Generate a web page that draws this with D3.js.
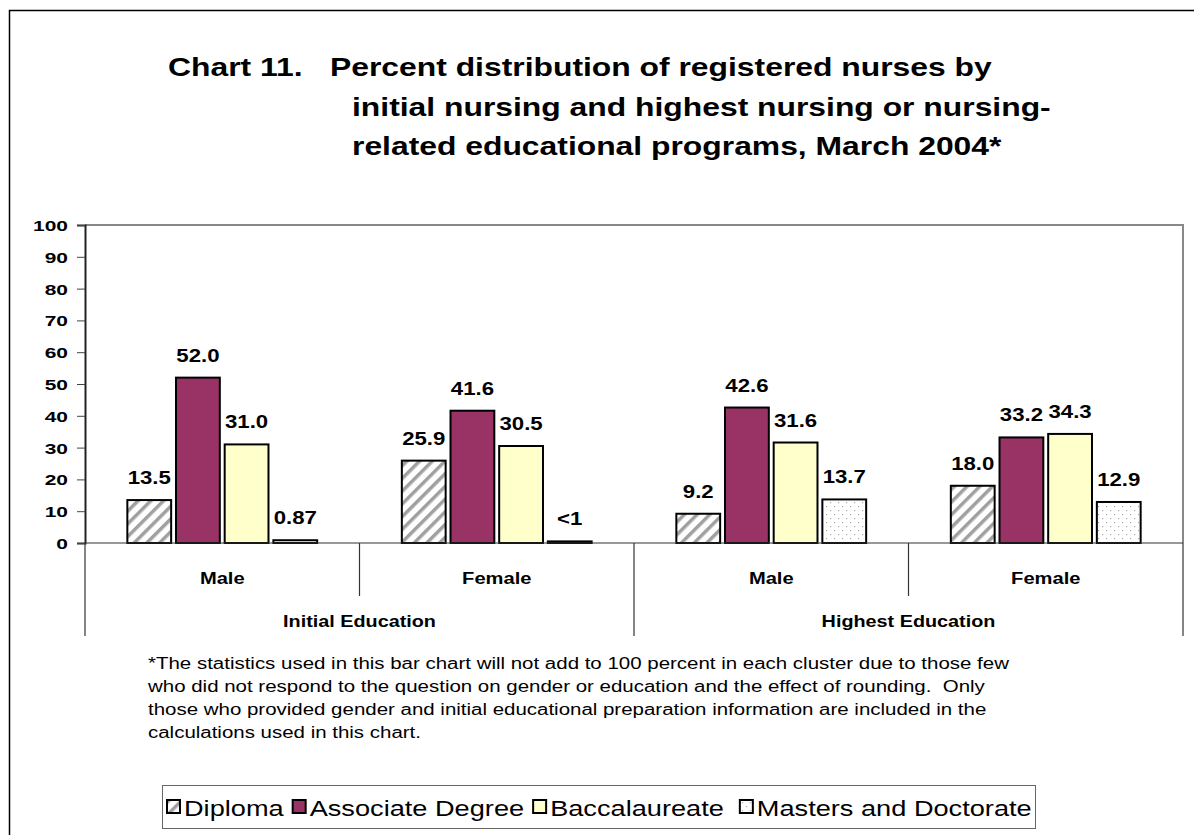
<!DOCTYPE html>
<head>
<style type="text/css">
	body { margin: 0; background: #fff; }
	text { font-family: Arial, "Liberation Sans", sans-serif; }
</style>
</head>
<script src="https://d3js.org/d3.v7.min.js"></script>
<body>
	<svg width="1194" height="835"></svg>
	<script>
	// data
	var groups = ["Initial Education", "Highest Education"];
	var categories = ["Male", "Female", "Male", "Female"];
	var series = ["Diploma", "Associate Degree", "Baccalaureate", "Masters and Doctorate"];
	var diploma = [13.5, 25.9, 9.2, 18.0];
	var associate = [52.0, 41.6, 42.6, 33.2];
	var baccalaureate = [31.0, 30.5, 31.6, 34.3];
	var masters = [0.87, 0.5, 13.7, 12.9];
	var labels = [
		["13.5", "52.0", "31.0", "0.87"],
		["25.9", "41.6", "30.5", "<1"],
		["9.2", "42.6", "31.6", "13.7"],
		["18.0", "33.2", "34.3", "12.9"]
	];
	var yTicks = [0, 10, 20, 30, 40, 50, 60, 70, 80, 90, 100];

	var svg = d3.select("svg");
	var mLeft = 85, mRight = 1183, mTop = 225, mBottom = 543;

	// the original picture is stretched sideways, so text is widened too
	function stretch(sel, sx) {
		sel.each(function() {
			var t = d3.select(this);
			var tx = +t.attr("x") || 0, ty = +t.attr("y") || 0;
			t.attr("x", 0).attr("y", 0)
				.attr("transform", "translate(" + tx + "," + ty + ") scale(" + sx + ",1)");
		});
	}

	var defs = svg.append("defs");
	var hatch = defs.append("pattern")
		.attr("id", "hatch")
		.attr("patternUnits", "userSpaceOnUse")
		.attr("width", 9).attr("height", 9)
		.attr("patternTransform", "rotate(45)");
	hatch.append("rect").attr("width", 9).attr("height", 9).attr("fill", "#fff");
	hatch.append("rect").attr("x", 0).attr("width", 3.5).attr("height", 9).attr("fill", "#a0a0a0");

	var dots = defs.append("pattern")
		.attr("id", "dots")
		.attr("patternUnits", "userSpaceOnUse")
		.attr("width", 8).attr("height", 8);
	dots.append("rect").attr("width", 8).attr("height", 8).attr("fill", "#fff");
	dots.append("rect").attr("x", 2).attr("y", 2).attr("width", 1.2).attr("height", 1.2).attr("fill", "#aaa");
	dots.append("rect").attr("x", 6).attr("y", 6).attr("width", 1.2).attr("height", 1.2).attr("fill", "#aaa");

	var fills = ["url(#hatch)", "#993366", "#ffffcc", "url(#dots)"];

	// outer frame (right and bottom edges fall outside the picture)
	svg.append("path")
		.attr("d", "M9.5,840V10.5H1200")
		.attr("fill", "none").attr("stroke", "#000").attr("stroke-width", 1.5);

	// title
	var title = svg.append("g").attr("font-weight", "bold").attr("font-size", 26);
	title.append("text").attr("x", 168).attr("y", 76).text("Chart 11.");
	title.append("text").attr("x", 330).attr("y", 76).text("Percent distribution of registered nurses by");
	title.append("text").attr("x", 352).attr("y", 116).text("initial nursing and highest nursing or nursing-");
	title.append("text").attr("x", 352).attr("y", 155).text("related educational programs, March 2004*");
	stretch(title.selectAll("text"), 1.225);

	var x0 = d3.scaleBand()
		.domain(d3.range(categories.length))
		.range([mLeft, mRight]);

	var x1 = d3.scaleBand()
		.domain(series)
		.range([0, x0.bandwidth()])
		.paddingInner(0.1)
		.paddingOuter(0.87);

	var y = d3.scaleLinear()
		.domain([0, 100])
		.range([mBottom, mTop]);

	// plot frame
	svg.append("path")
		.attr("d", "M" + mLeft + "," + y(100) + "H" + mRight + "V" + y(0))
		.attr("fill", "none").attr("stroke", "#888").attr("stroke-width", 2);

	var yAxis = svg.append("g")
		.attr("transform", "translate(" + mLeft + ",0)")
		.call(d3.axisLeft(y).tickValues(yTicks).tickSize(8).tickPadding(5));
	yAxis.select(".domain").attr("stroke", "#222").attr("stroke-width", 2);
	yAxis.selectAll(".tick line").attr("stroke", "#444");
	yAxis.selectAll("text")
		.attr("font-size", 15.5).attr("font-weight", "bold").attr("fill", "#000")
		.attr("font-family", "Arial, 'Liberation Sans', sans-serif")
		.attr("dy", "0.35em")
		.attr("x", -17);
	stretch(yAxis.selectAll("text"), 1.35);

	var values = [diploma, associate, baccalaureate, masters];
	var cells = [];
	categories.forEach(function(c, i) {
		series.forEach(function(s, j) {
			cells.push({ cat: i, s: s, j: j, v: values[j][i], label: labels[i][j] });
		});
	});

	var bars = svg.append("g");
	bars.selectAll("rect")
		.data(cells)
		.enter().append("rect")
		.attr("x", function(d) { return x0(d.cat) + x1(d.s); })
		.attr("y", function(d) { return y(d.v); })
		.attr("width", x1.bandwidth())
		.attr("height", function(d) { return y(0) - y(d.v); })
		.attr("fill", function(d) { return fills[d.j]; })
		.attr("stroke", "#000")
		.attr("stroke-width", 2);

	var vals = bars.selectAll("text")
		.data(cells)
		.enter().append("text")
		.attr("x", function(d) { return x0(d.cat) + x1(d.s) + x1.bandwidth() / 2; })
		.attr("y", function(d) { return y(d.v) - 16; })
		.attr("text-anchor", "middle")
		.attr("font-size", 18.5)
		.attr("font-weight", "bold")
		.text(function(d) { return d.label; });
	stretch(vals, 1.2);

	// category axis
	var cat = svg.append("g");
	cat.append("line")
		.attr("x1", mLeft).attr("x2", mRight).attr("y1", y(0)).attr("y2", y(0))
		.attr("stroke", "#333").attr("stroke-width", 1.2);
	var seps = d3.range(categories.length + 1);
	cat.selectAll("line.sep")
		.data(seps)
		.enter().append("line")
		.attr("class", "sep")
		.attr("x1", function(i) { return i < categories.length ? x0(i) : mRight; })
		.attr("x2", function(i) { return i < categories.length ? x0(i) : mRight; })
		.attr("y1", y(0))
		.attr("y2", function(i) { return i % 2 === 0 ? 636 : 596; })
		.attr("stroke", "#333").attr("stroke-width", 1.2);
	var catText = cat.selectAll("text.cat")
		.data(categories)
		.enter().append("text")
		.attr("class", "cat")
		.attr("x", function(d, i) { return x0(i) + x0.bandwidth() / 2; })
		.attr("y", 584)
		.attr("text-anchor", "middle")
		.attr("font-size", 16.5).attr("font-weight", "bold")
		.text(function(d) { return d; });
	var grpText = cat.selectAll("text.grp")
		.data(groups)
		.enter().append("text")
		.attr("class", "grp")
		.attr("x", function(d, i) { return x0(i * 2) + x0.bandwidth(); })
		.attr("y", 627)
		.attr("text-anchor", "middle")
		.attr("font-size", 16.5).attr("font-weight", "bold")
		.text(function(d) { return d; });
	stretch(catText, 1.22);
	stretch(grpText, 1.2);

	// footnote
	var note = [
		"*The statistics used in this bar chart will not add to 100 percent in each cluster due to those few",
		"who did not respond to the question on gender or education and the effect of rounding.  Only",
		"those who provided gender and initial educational preparation information are included in the",
		"calculations used in this chart."
	];
	var noteText = svg.append("g").selectAll("text")
		.data(note)
		.enter().append("text")
		.attr("x", 148)
		.attr("y", function(d, i) { return 669 + i * 23; })
		.attr("font-size", 16)
		.attr("xml:space", "preserve")
		.style("white-space", "pre")
		.text(function(d) { return d; });
	stretch(noteText, 1.28);

	// legend, items laid out one after another
	var legend = svg.append("g");
	legend.append("rect")
		.attr("x", 162.5).attr("y", 785.5).attr("width", 873).attr("height", 43)
		.attr("fill", "#fff").attr("stroke", "#666").attr("stroke-width", 1);
	var legSx = 1.235, legGap = [9, 9, 16];
	var cursor = 167;
	series.forEach(function(s, i) {
		var g = legend.append("g").attr("transform", "translate(" + cursor + ",800)");
		g.append("rect")
			.attr("width", 13).attr("height", 13)
			.attr("fill", fills[i])
			.attr("stroke", "#000").attr("stroke-width", 2);
		var t = g.append("text")
			.attr("x", 17).attr("y", 16)
			.attr("font-size", 22)
			.text(s);
		var w = t.node().getComputedTextLength() * legSx;
		stretch(t, legSx);
		cursor += 17 + w + (legGap[i] || 0);
	});
	</script>
</body>
